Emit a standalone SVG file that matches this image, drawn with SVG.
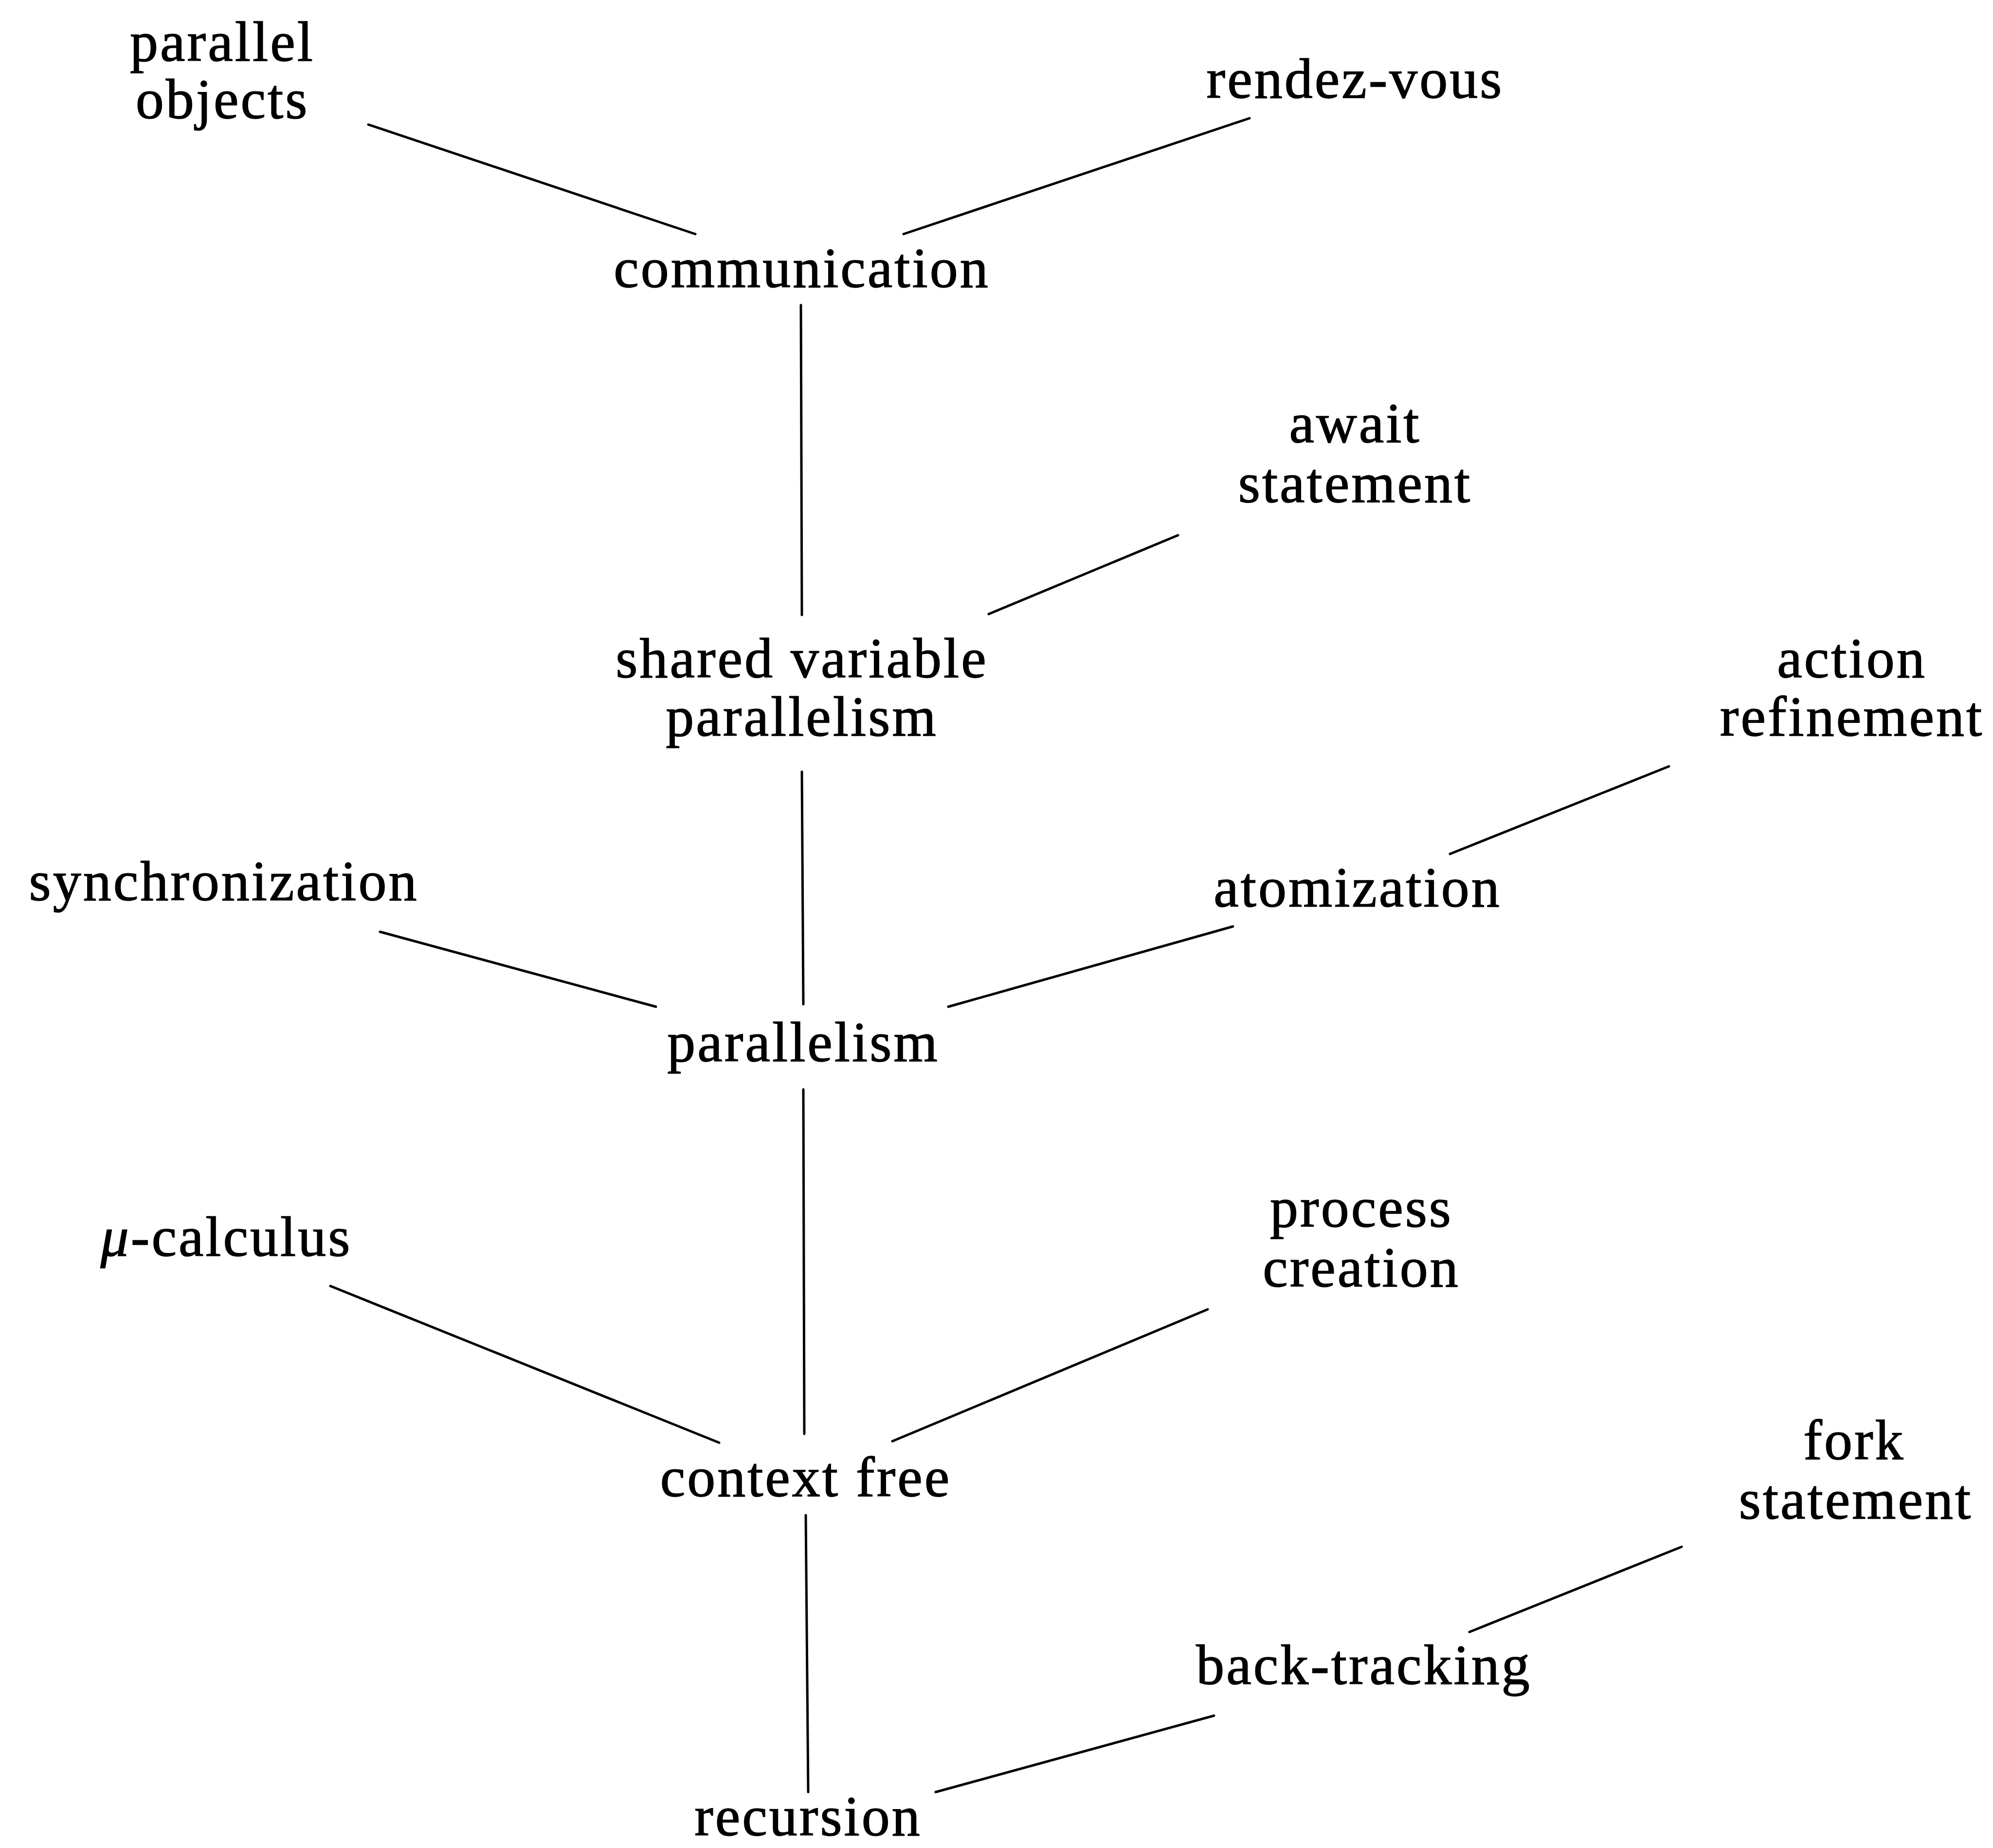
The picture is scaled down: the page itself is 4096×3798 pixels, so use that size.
<svg xmlns="http://www.w3.org/2000/svg" width="4096" height="3798" viewBox="0 0 4096 3798">
<style>
text{font-family:"Liberation Serif","Times New Roman",serif;font-size:116px;letter-spacing:4px;text-anchor:middle;fill:#000;stroke:#000;stroke-width:1.5}
line{stroke:#000;stroke-width:5;stroke-linecap:round}
</style>
<rect width="4096" height="3798" fill="#fff"/>
<g id="connectors">
<line x1="757" y1="256" x2="1429" y2="481"/>
<line x1="2568" y1="243" x2="1857" y2="481"/>
<line x1="1646" y1="627" x2="1648" y2="1264"/>
<line x1="2421" y1="1100" x2="2032" y2="1262"/>
<line x1="1648" y1="1586" x2="1651" y2="2064"/>
<line x1="3430" y1="1575" x2="2980" y2="1755"/>
<line x1="781" y1="1915" x2="1348" y2="2069"/>
<line x1="2534" y1="1904" x2="1949" y2="2069"/>
<line x1="1651" y1="2239" x2="1653" y2="2947"/>
<line x1="679" y1="2643" x2="1478" y2="2965"/>
<line x1="2482" y1="2691" x2="1834" y2="2962"/>
<line x1="1656" y1="3114" x2="1661" y2="3683"/>
<line x1="3456" y1="3179" x2="3020" y2="3354"/>
<line x1="2495" y1="3526" x2="1923" y2="3683"/>
</g>
<g id="parallel-objects"><text x="457" y="125">parallel</text><text x="457" y="243">objects</text></g>
<g id="rendez-vous"><text x="2785" y="201">rendez-vous</text></g>
<g id="communication"><text x="1648" y="590">communication</text></g>
<g id="await-statement"><text x="2785" y="909">await</text><text x="2785" y="1032">statement</text></g>
<g id="shared-variable-parallelism"><text x="1648" y="1392">shared variable</text><text x="1648" y="1512">parallelism</text></g>
<g id="action-refinement"><text x="3806" y="1392">action</text><text x="3806" y="1512">refinement</text></g>
<g id="synchronization"><text x="460" y="1850">synchronization</text></g>
<g id="atomization"><text x="2790" y="1863">atomization</text></g>
<g id="parallelism"><text x="1651" y="2181">parallelism</text></g>
<g id="mu-calculus"><text x="465" y="2581"><tspan font-style="italic">μ</tspan>-calculus</text></g>
<g id="process-creation"><text x="2798" y="2521">process</text><text x="2798" y="2644">creation</text></g>
<g id="context-free"><text x="1656" y="3075">context free</text></g>
<g id="fork-statement"><text x="3811" y="2999">fork</text><text x="3814" y="3121">statement</text></g>
<g id="back-tracking"><text x="2803" y="3461">back-tracking</text></g>
<g id="recursion"><text x="1661" y="3772">recursion</text></g>
</svg>
